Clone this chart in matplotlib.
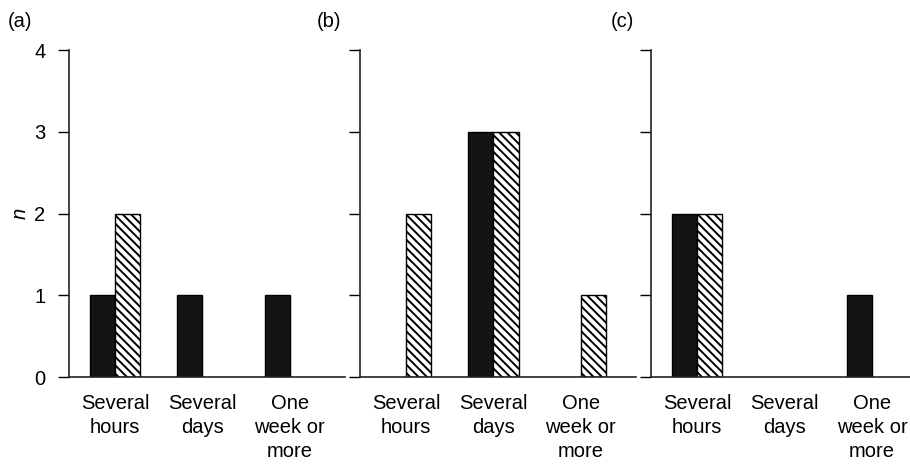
import matplotlib.pyplot as plt
import numpy as np

plt.rcParams["font.family"] = ["Liberation Sans", "DejaVu Sans"]
plt.rcParams["hatch.linewidth"] = 1.4

# durations on the x axis
categories = ["Several\nhours", "Several\ndays", "One\nweek or\nmore"]
panels = ["(a)", "(b)", "(c)"]

# counts per panel: solid series and hatched series
solid = [
    [1, 1, 1],
    [0, 3, 0],
    [2, 0, 1],
]
hatched = [
    [2, 0, 0],
    [2, 3, 1],
    [2, 0, 0],
]

fig = plt.figure(figsize=(9.1, 4.68), dpi=100)

# axes boxes in figure fractions (left, width), x limits, panel label x
boxes = [(0.0758, 0.3033, 2.63, 0.009),
         (0.3956, 0.3033, 2.63, 0.348),
         (0.7154, 0.2846, 2.434, 0.671)]
bottom, height = 0.1944, 0.6987
w = 0.29
x = np.arange(len(categories))
fs = 14.5

for i, (left, width, xmax, lx) in enumerate(boxes):
    ax = fig.add_axes([left, bottom, width, height])
    s = np.array(solid[i])
    h = np.array(hatched[i])
    ax.bar(x[s > 0] - w / 2, s[s > 0], width=w, color="#141414",
           edgecolor="black", linewidth=1.0)
    ax.bar(x[h > 0] + w / 2, h[h > 0], width=w, color="white",
           edgecolor="black", linewidth=1.0, hatch="\\\\\\\\")

    ax.set_xlim(-0.526, xmax)
    ax.set_ylim(0, 4)
    ax.set_yticks([0, 1, 2, 3, 4])
    ax.set_xticks(x)
    ax.set_xticklabels(categories, fontsize=fs, linespacing=1.35,
                       va="top")
    ax.tick_params(axis="x", length=0, pad=12)
    ax.tick_params(axis="y", length=8, width=1.0, direction="out",
                   labelsize=fs, pad=9)
    if i > 0:
        ax.tick_params(axis="y", labelleft=False)
    else:
        ax.set_ylabel("n", fontsize=fs, style="italic", labelpad=3)

    for sp in ["top", "right"]:
        ax.spines[sp].set_visible(False)
    for sp in ["left", "bottom"]:
        ax.spines[sp].set_linewidth(1.2)
        ax.spines[sp].set_color("#222222")

    fig.text(lx, 0.955, panels[i], fontsize=fs, ha="left", va="center")

fig.savefig("out.png", dpi=100)
